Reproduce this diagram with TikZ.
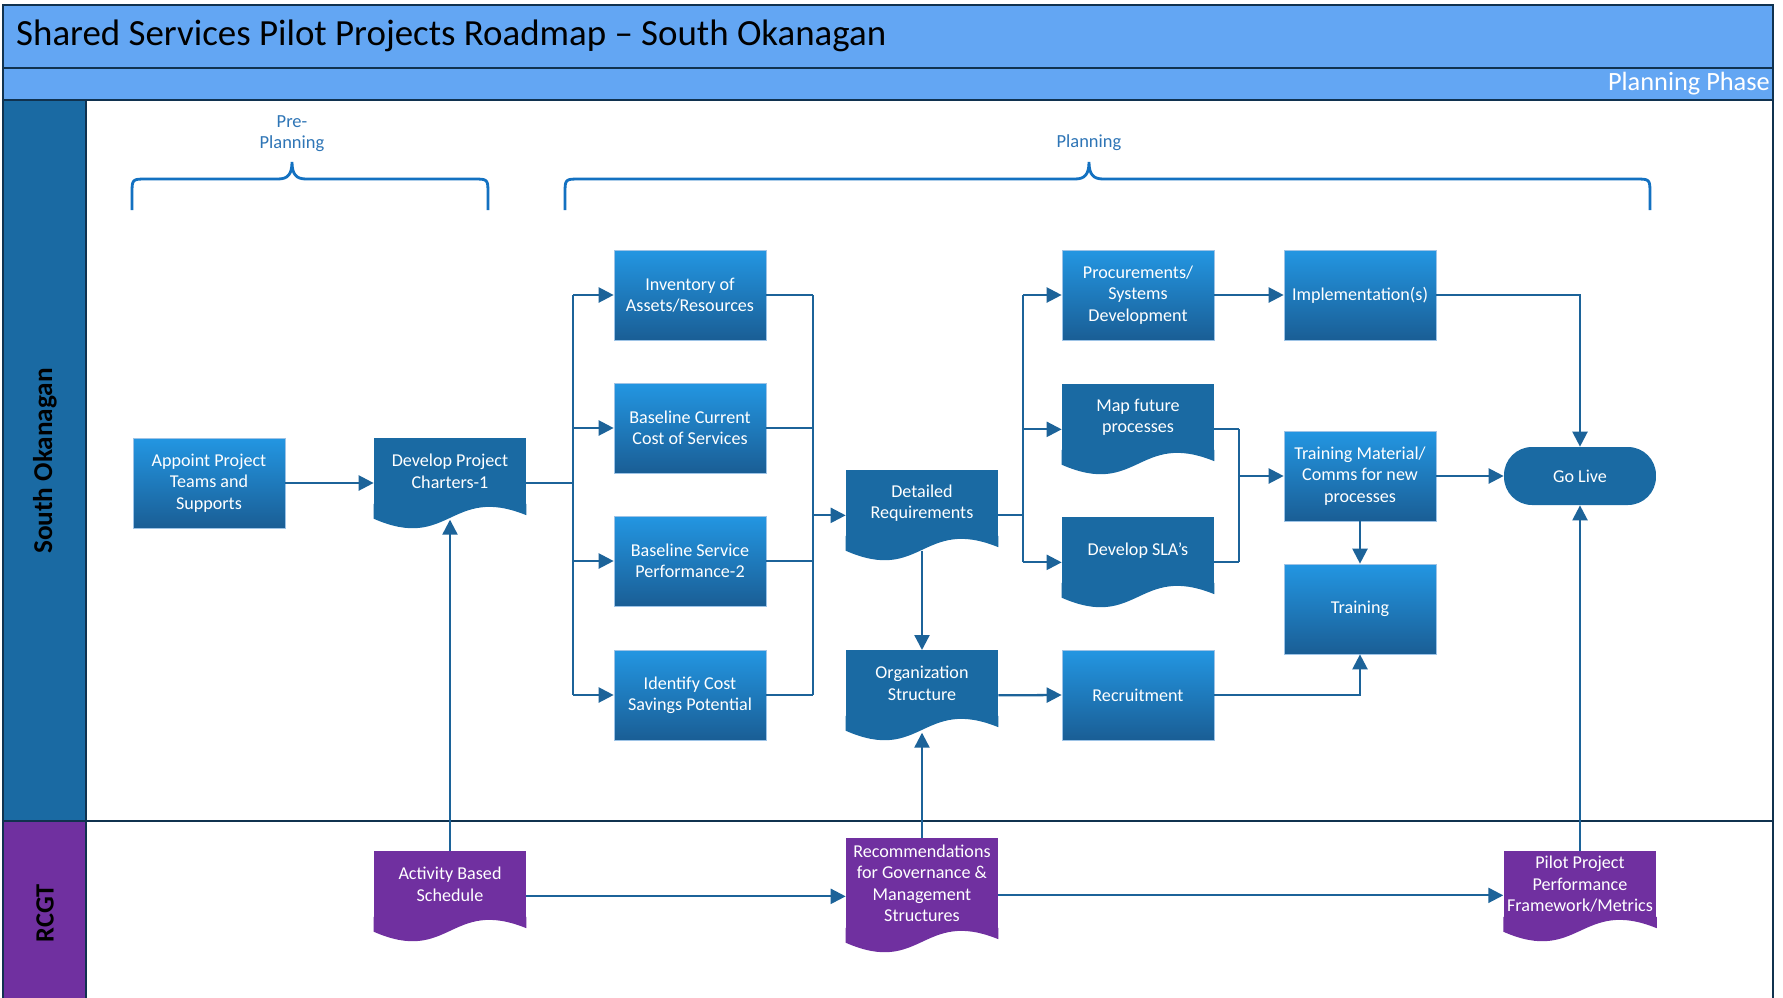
\documentclass[tikz,border=0pt]{standalone}
\usepackage{fontspec}
\setmainfont{Carlito}
\usetikzlibrary{arrows.meta}

\definecolor{bandblue}{HTML}{63A6F3}
\definecolor{frame}{HTML}{10324F}
\definecolor{laneblue}{HTML}{1A6AA3}
\definecolor{lanepurple}{HTML}{7030A0}
\definecolor{boxtop}{HTML}{2396E2}
\definecolor{boxbot}{HTML}{1A5E95}
\definecolor{boxedge}{HTML}{9DC3E6}
\definecolor{docblue}{HTML}{1A6AA3}
\definecolor{linkblue}{HTML}{1C6399}
\definecolor{braceblue}{HTML}{1371C1}
\definecolor{phasetext}{HTML}{2E75B6}

% wavy bottom of a document shape, hung under node #1 (colour #2),
% plus the point (#1-c) where connectors meet it
\newcommand{\wavebottom}[2]{%
  \fill[#2] ([yshift=0.4pt]#1.south east) -- ([yshift=-0.21cm]#1.south east)
    .. controls +(-1.52cm,0.62cm) and +(1.52cm,-0.67cm) .. ([yshift=-0.28cm]#1.south west)
    -- ([yshift=0.4pt]#1.south west) -- cycle;
  \coordinate (#1-c) at ([yshift=-0.24cm]#1.center);
}

\tikzset{
  lane/.style={draw=frame, line width=1.6pt},
  task/.style={rectangle, top color=boxtop, bottom color=boxbot, draw=boxedge,
    line width=0.4pt, text=white, align=center, inner sep=2pt,
    minimum width=3.04cm, minimum height=1.8cm, font=\fontsize{10.3}{12.2}\selectfont},
  doc/.style={rectangle, fill=#1, text=white, align=center, inner sep=2pt,
    minimum width=3.04cm, minimum height=1.32cm, anchor=north,
    font=\fontsize{10.3}{12.2}\selectfont},
  doc/.default=docblue,
  terminal/.style={rectangle, rounded corners=0.56cm, fill=docblue, text=white,
    minimum width=3.04cm, minimum height=1.16cm, font=\fontsize{10.3}{12.2}\selectfont},
  link/.style={draw=linkblue, line width=1.3pt},
  flow/.style={link, -{Triangle[length=0.3cm,width=0.3cm]}},
  brace/.style={draw=braceblue, line width=1.6pt},
  phase/.style={text=phasetext, align=center, font=\fontsize{10.5}{12}\selectfont},
}

\begin{document}
\begin{tikzpicture}[x=0.02cm, y=-0.02cm]
\useasboundingbox (0,0) rectangle (1783,998);
\fill[white] (0,0) rectangle (1783,998);
\clip (0,0) rectangle (1783,998);

% header bands and swim lanes
\draw[lane, fill=bandblue] (3,5) rectangle (1773,68);
\draw[lane, fill=bandblue] (3,68) rectangle (1773,100);
\draw[lane] (3,100) rectangle (1773,821);
\draw[lane] (3,821) rectangle (1773,1020);
\draw[lane, fill=laneblue] (3,100) rectangle (86,821);
\draw[lane, fill=lanepurple] (3,821) rectangle (86,1020);

\node[anchor=west, font=\fontsize{21}{25}\selectfont] (title) at (10,36)
  {Shared Services Pilot Projects Roadmap -- South Okanagan};
\node[anchor=east, text=white, font=\fontsize{15}{18}\selectfont] (phasename) at (1776,84)
  {Planning Phase};
\node[rotate=90, font=\fontsize{15.5}{18}\bfseries] (lane-so) at (45,461) {South Okanagan};
\node[rotate=90, font=\fontsize{15}{18}\bfseries] (lane-rcgt) at (45,913) {RCGT};

% phase braces
\foreach \l/\m/\r in {132/292/488, 565/1089/1650}
  \draw[brace] (\l,210) -- (\l,194) .. controls (\l,179) .. (\l+15,179)
    -- (\m-14,179) .. controls (\m-4,179) and (\m,174) .. (\m,162)
    .. controls (\m,174) and (\m+4,179) .. (\m+14,179)
    -- (\r-15,179) .. controls (\r,179) .. (\r,194) -- (\r,210);
\node[phase] (preplan) at (292,134) {Pre-\\Planning};
\node[phase] (plan) at (1089,143) {Planning};

% South Okanagan lane
\node[task] (appoint) at (209,483) {Appoint Project\\Teams and\\Supports};
\node[doc] (charters) at (450,438) {Develop Project\\Charters-1};
\wavebottom{charters}{docblue}
\node[task] (inv) at (690,295) {Inventory of\\Assets/Resources};
\node[task] (basecost) at (690,428) {Baseline Current\\Cost of Services};
\node[task] (baseperf) at (690,561) {Baseline Service\\Performance-2};
\node[task] (savings) at (690,695) {Identify Cost\\Savings Potential};
\node[doc] (detreq) at (922,470) {Detailed\\Requirements};
\wavebottom{detreq}{docblue}
\node[doc] (orgstruct) at (922,650) {Organization\\Structure};
\wavebottom{orgstruct}{docblue}
\node[task] (proc) at (1138,295) {Procurements/\\Systems\\Development};
\node[doc] (mapproc) at (1138,384) {Map future\\processes};
\wavebottom{mapproc}{docblue}
\node[doc] (sla) at (1138,517) {Develop SLA’s};
\wavebottom{sla}{docblue}
\node[task] (recruit) at (1138,695) {Recruitment};
\node[task] (impl) at (1360,295) {Implementation(s)};
\node[task] (trainmat) at (1360,476) {Training Material/\\Comms for new\\processes};
\node[task] (training) at (1360,609) {Training};
\node[terminal] (golive) at (1580,476) {Go Live};

% RCGT lane
\node[doc=lanepurple] (activity) at (450,851) {Activity Based\\Schedule};
\wavebottom{activity}{lanepurple}
\node[doc=lanepurple, minimum height=1.8cm] (recs) at (922,838)
  {Recommendations\\for Governance \&\\Management\\Structures};
\wavebottom{recs}{lanepurple}
\node[doc=lanepurple] (pilot) at (1580,851) {Pilot Project\\Performance\\Framework/Metrics};
\wavebottom{pilot}{lanepurple}

% fork and join points
\coordinate (fork1) at (573,0);
\coordinate (join1) at (813,0);
\coordinate (fork2) at (1023,0);
\coordinate (join2) at (1239,0);

% connectors
\draw[flow] (appoint.east) -- (appoint.east -| charters.west);
\draw[link] (charters-c -| charters.east) -- (charters-c -| fork1);
\draw[link] (fork1 |- inv) -- (fork1 |- savings);
\foreach \n in {inv,basecost,baseperf,savings}
  \draw[flow] (fork1 |- \n) -- (\n.west);
\foreach \n in {inv,basecost,baseperf,savings}
  \draw[link] (\n.east) -- (\n -| join1);
\draw[link] (join1 |- inv) -- (join1 |- savings);
\draw[flow] (join1 |- detreq-c) -- (detreq-c -| detreq.west);

\draw[link] (detreq-c -| detreq.east) -- (detreq-c -| fork2);
\draw[link] (fork2 |- proc) -- (fork2 |- sla-c);
\draw[flow] (fork2 |- proc) -- (proc.west);
\draw[flow] (fork2 |- mapproc-c) -- (mapproc-c -| mapproc.west);
\draw[flow] (fork2 |- sla-c) -- (sla-c -| sla.west);

\draw[flow] (proc) -- (impl);
\draw[flow] (impl.east) -| (golive.north);
\draw[link] (mapproc-c -| mapproc.east) -- (mapproc-c -| join2);
\draw[link] (sla-c -| sla.east) -- (sla-c -| join2);
\draw[link] (join2 |- mapproc-c) -- (join2 |- sla-c);
\draw[flow] (join2 |- trainmat) -- (trainmat.west);
\draw[flow] (trainmat) -- (golive);
\draw[flow] (trainmat) -- (training);

\draw[flow] ([yshift=-0.28cm]detreq.south) -- (orgstruct.north);
\draw[flow] (orgstruct-c -| orgstruct.east) -- (recruit.west);
\draw[flow] (recruit.east) -| (training.south);

\draw[flow] (activity.north) -- ([yshift=-0.3cm]charters.south);
\draw[flow] (activity-c -| activity.east) -- (activity-c -| recs.west);
\draw[flow] (recs-c -| recs.east) -- (recs-c -| pilot.west);
\draw[flow] (recs.north) -- ([yshift=-0.32cm]orgstruct.south);
\draw[flow] (pilot.north) -- (golive.south);
\end{tikzpicture}
\end{document}
